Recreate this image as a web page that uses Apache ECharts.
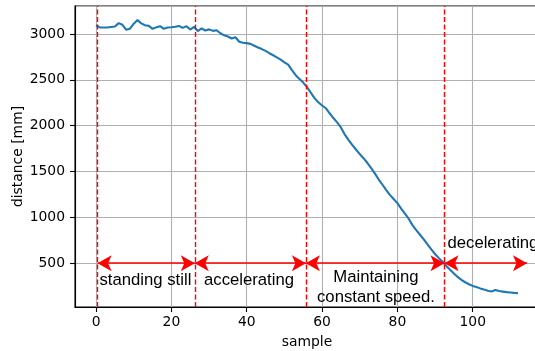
<!DOCTYPE html>
<html>
<head>
<meta charset="utf-8">
<script src="https://cdn.jsdelivr.net/npm/echarts@6/dist/echarts.min.js"></script>
<style>
html,body{margin:0;padding:0;background:#fff;}
#chart{width:535px;height:351px;}
</style>
</head>
<body>
<div id="chart"></div>
<script>
// distance [mm] per sample index (0..112)
const distance = [
  3095,3072,3070,3070,3076,3082,3118,3100,3045,3058,
  3112,3152,3115,3095,3088,3056,3072,3085,3056,3070,
  3073,3078,3088,3066,3085,3048,3078,3032,3060,3038,
  3050,3034,3040,3008,2985,2972,2950,2964,2915,2905,
  2900,2892,2872,2852,2835,2815,2790,2768,2745,2720,
  2690,2665,2605,2550,2510,2470,2420,2360,2300,2255,
  2220,2190,2135,2083,2035,1980,1905,1845,1790,1740,
  1690,1645,1595,1540,1480,1415,1358,1300,1245,1200,
  1155,1095,1040,985,915,860,810,760,705,650,
  600,555,515,470,428,388,350,318,292,270,
  252,240,225,212,200,192,208,196,190,184,
  180,176,173
];
// phase boundaries (sample units): dashed lines are the first four, last is arrow end
const phaseBounds = [0.4, 26.2, 55.7, 92.5, 114.4];
const arrowLevel = 500;
const phaseLabels = ['standing still', 'accelerating', 'Maintaining\nconstant speed.', 'decelerating'];
const labelAnchors = [[13.1, 310], [40.6, 310], [74.3, 238], [93.3, 717]];

const chart = echarts.init(document.getElementById('chart'), null, {renderer: 'canvas'});

const tickFont = {fontFamily: 'DejaVu Sans', fontSize: 13.9, color: '#000'};

const arrowSegs = [];
for (let i = 0; i < phaseBounds.length - 1; i++) {
  arrowSegs.push([{coord: [phaseBounds[i], arrowLevel]}, {coord: [phaseBounds[i + 1], arrowLevel]}]);
}
const vlines = phaseBounds.slice(0, 4).map(v => ({xAxis: v}));
const textPoints = phaseLabels.map((t, i) => {
  const item = {name: t, coord: labelAnchors[i]};
  if (i === 3) item.label = {position: 'right', distance: 0, align: 'left'};
  return item;
});

chart.setOption({
  animation: false,
  grid: {
    left: 75, right: -4, top: 6, bottom: 44,
    show: true, borderColor: '#000', borderWidth: 1.1, backgroundColor: 'transparent',
    outerBoundsMode: 'none', containLabel: false
  },
  xAxis: {
    type: 'value', min: -5.6, max: 117.6,
    name: 'sample', nameLocation: 'middle', nameGap: 28, nameMoveOverlap: false,
    nameTextStyle: tickFont,
    axisLine: {show: true, onZero: false, lineStyle: {color: '#000', width: 1.1}},
    axisTick: {show: true, length: 5, lineStyle: {color: '#000', width: 1.1}},
    axisLabel: {show: true, margin: 8, showMinLabel: false, showMaxLabel: false,
      formatter: v => String(v), ...tickFont},
    splitLine: {show: true, lineStyle: {color: '#b0b0b0', width: 1.1}}
  },
  yAxis: {
    type: 'value', min: 22, max: 3305,
    name: 'distance [mm]', nameLocation: 'middle', nameGap: 50, nameMoveOverlap: false,
    nameTextStyle: tickFont,
    axisLine: {show: true, onZero: false, lineStyle: {color: '#000', width: 1.1}},
    axisTick: {show: true, length: 5, lineStyle: {color: '#000', width: 1.1}},
    axisLabel: {show: true, margin: 10, showMinLabel: false, showMaxLabel: false,
      formatter: v => String(v), ...tickFont},
    splitLine: {show: true, lineStyle: {color: '#b0b0b0', width: 1.1}}
  },
  series: [
    {
      type: 'line',
      data: distance.map((d, i) => [i, d]),
      showSymbol: false,
      symbol: 'none',
      lineStyle: {color: '#1f77b4', width: 2.1},
      z: 3
    },
    {
      type: 'line',
      data: [],
      markLine: {
        silent: true, symbol: 'none', animation: false,
        label: {show: false},
        lineStyle: {color: '#ff0000', type: [5, 2.5], width: 1.4},
        data: vlines
      },
      z: 4
    },
    {
      type: 'line',
      data: [],
      markLine: {
        silent: true, symbol: ['arrow', 'arrow'], symbolSize: [12, 14], animation: false,
        label: {show: false},
        lineStyle: {color: '#ff0000', type: 'solid', width: 1.6},
        itemStyle: {color: '#ff0000'},
        data: arrowSegs
      },
      markPoint: {
        silent: true, symbol: 'circle', symbolSize: 0, animation: false,
        itemStyle: {color: 'transparent'},
        label: {
          show: true, position: 'inside', formatter: '{b}',
          fontFamily: 'Liberation Sans', fontSize: 16.7, color: '#000', lineHeight: 20, align: 'center'
        },
        data: textPoints
      },
      z: 5
    }
  ]
});
</script>
</body>
</html>
